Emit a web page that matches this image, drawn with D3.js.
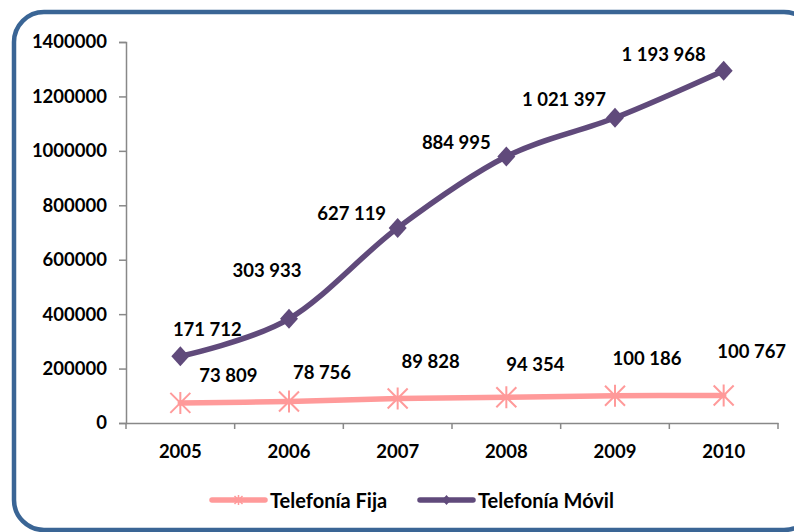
<!DOCTYPE html>
<html>
<head>
<meta charset="utf-8">
<script src="https://cdn.jsdelivr.net/npm/d3@7"></script>
<style>
  body { margin: 0; background: #fff; }
  svg { display: block; font-family: Lato, "Open Sans", sans-serif; font-weight: bold; }
</style>
</head>
<body>
<div id="chart"></div>
<script>
const years = ["2005", "2006", "2007", "2008", "2009", "2010"];
const fija = [73809, 78756, 89828, 94354, 100186, 100767];
const movil = [171712, 303933, 627119, 884995, 1021397, 1193968];
const yTicks = [0, 200000, 400000, 600000, 800000, 1000000, 1200000, 1400000];
const seriesNames = ["Telefonía Fija", "Telefonía Móvil"];

// label offsets (px) from each point, as placed in the original
const fijaLabelOff = [[48, -28], [33, -30], [33, -38], [29, -33], [32, -38], [28, -45]];
const movilLabelOff = [[27, -27], [-22, -49], [-46, -15], [-50, -14], [-51, -19], [-60, -17]];

const W = 794, H = 532;
const fmt = v => d3.format(",")(v).replace(/,/g, " ");

const svg = d3.select("#chart").append("svg")
  .attr("width", W).attr("height", H);

// frame
svg.append("rect")
  .attr("x", 14).attr("y", 12)
  .attr("width", 800).attr("height", 518)
  .attr("rx", 30).attr("ry", 30)
  .attr("fill", "none")
  .attr("stroke", "#3A6595")
  .attr("stroke-width", 4.5);

const x = d3.scaleBand().domain(years).range([126, 778]);
const y = d3.scaleLinear().domain([0, 1400000]).range([423, 42]);
const cx = d => x(d) + x.bandwidth() / 2;

// stacked line: Móvil drawn on top of Fija
const stacked = d3.stack().keys(["fija", "movil"])(
  years.map((yr, i) => ({ year: yr, fija: fija[i], movil: movil[i] }))
);

// axes
const yAxis = svg.append("g")
  .attr("transform", "translate(126,0)")
  .call(d3.axisLeft(y).tickValues(yTicks).tickSize(7).tickPadding(12).tickFormat(d3.format("d")));
yAxis.select(".domain").attr("stroke", "#888").attr("stroke-width", 1.5);
yAxis.selectAll(".tick line").attr("stroke", "#888").attr("stroke-width", 1.5);
yAxis.selectAll("text").attr("font-size", 18.5).attr("font-family", "Lato").attr("font-weight", "bold").attr("fill", "#000");

const xAxis = svg.append("g")
  .attr("transform", "translate(0,423)")
  .call(d3.axisBottom(x).tickSize(0).tickPadding(22));
xAxis.select(".domain").attr("stroke", "#888").attr("stroke-width", 1.5);
xAxis.selectAll("text").attr("font-size", 18.5).attr("font-family", "Lato").attr("font-weight", "bold").attr("fill", "#000");
xAxis.selectAll(".sep")
  .data(d3.range(years.length + 1))
  .join("line")
  .attr("x1", i => x.range()[0] + i * x.step())
  .attr("x2", i => x.range()[0] + i * x.step())
  .attr("y1", 0).attr("y2", 6)
  .attr("stroke", "#888").attr("stroke-width", 1.5);

const line = d3.line()
  .x(d => cx(d.data.year))
  .y(d => y(d[1]))
  .curve(d3.curveCardinal.tension(0));

const colors = ["#FF9A9A", "#604A7B"];

function star(g, r) {
  g.append("path")
    .attr("d", `M${-r},${-r}L${r},${r}M${-r},${r}L${r},${-r}M0,${-r * 1.1}L0,${r * 1.1}`)
    .attr("stroke", colors[0]).attr("stroke-width", 2).attr("fill", "none");
}

stacked.forEach((s, k) => {
  svg.append("path")
    .datum(s)
    .attr("d", line)
    .attr("fill", "none")
    .attr("stroke", colors[k])
    .attr("stroke-width", 5.5)
    .attr("stroke-linecap", "round");

  const pts = svg.append("g").selectAll("g")
    .data(s)
    .join("g")
    .attr("transform", d => `translate(${cx(d.data.year)},${y(d[1])})`);

  if (k === 0) {
    pts.each(function() { star(d3.select(this), 10); });
  } else {
    pts.append("path")
      .attr("d", "M0,-10L9,0L0,10L-9,0Z")
      .attr("fill", colors[1]);
  }
});

// data labels
const labelSets = [[fija, fijaLabelOff, stacked[0]], [movil, movilLabelOff, stacked[1]]];
labelSets.forEach(([vals, off, s]) => {
  svg.append("g").selectAll("text")
    .data(s)
    .join("text")
    .attr("x", (d, i) => cx(d.data.year) + off[i][0])
    .attr("y", (d, i) => y(d[1]) + off[i][1])
    .attr("text-anchor", "middle")
    .attr("dominant-baseline", "central")
    .attr("font-size", 18.5)
    .text((d, i) => fmt(vals[i]));
});

// legend
const legendX = [212, 420];
const lg = svg.append("g").selectAll("g")
  .data(seriesNames)
  .join("g")
  .attr("transform", (d, i) => `translate(${legendX[i]},500)`);
lg.append("line")
  .attr("x1", 0).attr("x2", 53)
  .attr("stroke", (d, i) => colors[i])
  .attr("stroke-width", 5.5)
  .attr("stroke-linecap", "round");
lg.each(function(d, i) {
  const g = d3.select(this).append("g").attr("transform", "translate(26.5,0)");
  if (i === 0) {
    g.append("path")
      .attr("d", "M-4,-4L4,4M-4,4L4,-4M0,-5L0,5")
      .attr("stroke", colors[0]).attr("stroke-width", 1.5);
  } else {
    g.append("path").attr("d", "M0,-5L4.5,0L0,5L-4.5,0Z").attr("fill", colors[1]);
  }
});
lg.append("text")
  .attr("x", 58)
  .attr("dominant-baseline", "central")
  .attr("font-size", 20)
  .text(d => d);
</script>
</body>
</html>
